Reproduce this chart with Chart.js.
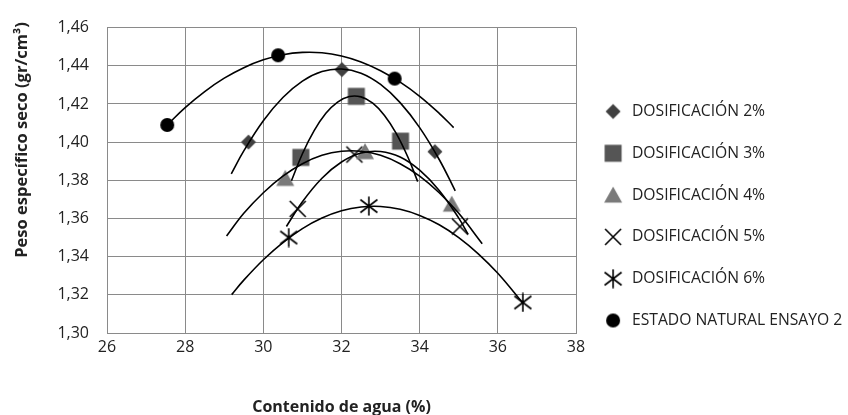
<!DOCTYPE html>
<html><head><meta charset="utf-8">
<script src="https://cdn.jsdelivr.net/npm/chart.js@4"></script>
<style>html,body{margin:0;padding:0;background:#fff;}</style>
</head><body>
<canvas id="c" width="848" height="415"></canvas>
<script>
// ---- data ----
const seriesLabels = ['DOSIFICACIÓN 2%','DOSIFICACIÓN 3%','DOSIFICACIÓN 4%','DOSIFICACIÓN 5%','DOSIFICACIÓN 6%','ESTADO NATURAL ENSAYO 2'];
const water2 = [29.62, 32.01, 34.39];  const dens2 = [1.400, 1.438, 1.395];
const water3 = [30.96, 32.38, 33.51];  const dens3 = [1.392, 1.424, 1.4005];
const water4 = [30.56, 32.60, 34.82];  const dens4 = [1.381, 1.395, 1.3675];
const water5 = [30.88, 32.33, 35.03];  const dens5 = [1.365, 1.3935, 1.3558];
const water6 = [30.65, 32.70, 36.64];  const dens6 = [1.350, 1.3665, 1.316];
const waterN = [27.54, 30.38, 33.36];  const densN = [1.409, 1.4455, 1.4333];

// trend curves
const trendX2 = [29.18, 29.5, 30, 30.5, 31, 31.5, 32, 32.5, 33, 33.5, 34, 34.5, 34.91];
const trendY2 = [1.3834, 1.3954, 1.4112, 1.4234, 1.432, 1.437, 1.4383, 1.4361, 1.4302, 1.4207, 1.4076, 1.3909, 1.3745];
const trendX3 = [30.72, 31.0, 31.3, 31.6, 31.9, 32.2, 32.5, 32.8, 33.1, 33.4, 33.7, 33.95];
const trendY3 = [1.3798, 1.3939, 1.406, 1.4151, 1.421, 1.4239, 1.4237, 1.4204, 1.414, 1.4046, 1.3921, 1.3793];
const trendX4 = [29.06, 29.5, 30, 30.5, 31, 31.5, 32, 32.5, 33, 33.5, 34, 34.5, 35, 35.6];
const trendY4 = [1.3508, 1.3627, 1.3735, 1.3822, 1.3887, 1.3931, 1.3952, 1.3952, 1.3931, 1.3887, 1.3822, 1.3735, 1.3627, 1.3468];
const trendX5 = [30.59, 31, 31.5, 32, 32.5, 33, 33.5, 34, 34.5, 35, 35.24];
const trendY5 = [1.3558, 1.3688, 1.3811, 1.3896, 1.3943, 1.3951, 1.3922, 1.3853, 1.3747, 1.3602, 1.3517];
const trendX6 = [29.19, 29.5, 30, 30.5, 31, 31.5, 32, 32.5, 33, 33.5, 34, 34.5, 35, 35.5, 36, 36.64];
const trendY6 = [1.3201, 1.3277, 1.3384, 1.3474, 1.3547, 1.3602, 1.364, 1.366, 1.3663, 1.3648, 1.3616, 1.3567, 1.35, 1.3415, 1.3313, 1.3157];
const trendXN = [27.54, 28, 28.5, 29, 29.5, 30, 30.5, 31, 31.5, 32, 32.5, 33, 33.5, 34, 34.5, 34.87];
const trendYN = [1.409, 1.4181, 1.4265, 1.4335, 1.439, 1.4431, 1.4458, 1.447, 1.4468, 1.4451, 1.442, 1.4374, 1.4314, 1.424, 1.4151, 1.4076];

const xTickValues = [26, 28, 30, 32, 34, 36, 38];
const yTickValues = [1.30, 1.32, 1.34, 1.36, 1.38, 1.40, 1.42, 1.44, 1.46];
const xTitle = 'Contenido de agua (%)';
const yTitle = 'Peso específico seco (gr/cm³)';

// ---- marker images ----
function makeMarker(kind){
  const c = document.createElement('canvas');
  const s = 20; c.width = s; c.height = s;
  const g = c.getContext('2d'); const m = s/2;
  if (kind === 'diamond'){ g.fillStyle='#404040'; g.beginPath(); g.moveTo(m,m-7.5); g.lineTo(m+7.5,m); g.lineTo(m,m+7.5); g.lineTo(m-7.5,m); g.closePath(); g.fill(); }
  if (kind === 'square'){ g.fillStyle='#555555'; g.fillRect(m-8.5,m-8.5,17,17); }
  if (kind === 'triangle'){ g.fillStyle='#7a7a7a'; g.beginPath(); g.moveTo(m,m-8.5); g.lineTo(m+9,m+7.5); g.lineTo(m-9,m+7.5); g.closePath(); g.fill(); }
  if (kind === 'x'){ g.strokeStyle='#000'; g.lineWidth=1.6; g.beginPath(); g.moveTo(m-8,m-8); g.lineTo(m+8,m+8); g.moveTo(m+8,m-8); g.lineTo(m-8,m+8); g.stroke(); }
  if (kind === 'asterisk'){ g.strokeStyle='#000'; g.lineWidth=1.6; g.beginPath(); g.moveTo(m,m-9.5); g.lineTo(m,m+9.5); g.moveTo(m-8.5,m-6.5); g.lineTo(m+8.5,m+6.5); g.moveTo(m+8.5,m-6.5); g.lineTo(m-8.5,m+6.5); g.stroke(); }
  if (kind === 'circle'){ g.fillStyle='#000'; g.beginPath(); g.arc(m,m,7,0,Math.PI*2); g.fill(); }
  return c;
}
const markerKinds = ['diamond','square','triangle','x','asterisk','circle'];
const markers = markerKinds.map(makeMarker);

const pts = (xs, ys) => xs.map((x,i)=>({x, y: ys[i]}));
const waters = [water2, water3, water4, water5, water6, waterN];
const dens = [dens2, dens3, dens4, dens5, dens6, densN];
const trendXs = [trendX2, trendX3, trendX4, trendX5, trendX6, trendXN];
const trendYs = [trendY2, trendY3, trendY4, trendY5, trendY6, trendYN];

const datasets = [];
seriesLabels.forEach((lab, i) => {
  datasets.push({ label: lab, data: pts(waters[i], dens[i]), showLine: false,
    pointStyle: markers[i], pointRadius: 8, pointHoverRadius: 8, order: 1 });
});
seriesLabels.forEach((lab, i) => {
  datasets.push({ label: 'trend ' + lab, data: pts(trendXs[i], trendYs[i]), showLine: true,
    borderColor: '#000', borderWidth: 1.6, pointRadius: 0, fill: false,
    tension: 0.4, order: 0 });
});

const LEGEND_W = 272;
const legendWidthPlugin = {
  id: 'legendWidth',
  beforeUpdate(chart){
    const lg = chart.legend;
    if (lg && !lg._wPatched){
      const f = lg.fit;
      lg.fit = function(){ f.call(this); if (this.isHorizontal && !this.isHorizontal()) this.width = LEGEND_W; };
      lg._wPatched = true;
    }
  }
};
const yTitlePlugin = {
  id: 'yTitle',
  afterDraw(chart){
    const ctx = chart.ctx; ctx.save();
    ctx.translate(22, 140); ctx.rotate(-Math.PI/2);
    ctx.font = 'bold 16.5px "Open Sans"'; ctx.fillStyle = '#222';
    ctx.textAlign = 'center'; ctx.textBaseline = 'middle';
    ctx.fillText(yTitle, 0, 0); ctx.restore();
  }
};

new Chart(document.getElementById('c'), {
  type: 'scatter',
  data: { datasets },
  options: {
    responsive: false, animation: false,
    layout: { padding: { top: 13, left: 0, right: 0, bottom: -4 } },
    plugins: {
      tooltip: { enabled: false },
      legend: {
        position: 'right', align: 'center',
        labels: {
          usePointStyle: true, pointStyleWidth: 22, boxHeight: 15.7, padding: 26.1,
          color: '#222', font: { family: 'Open Sans', size: 15.7 },
          filter: (item) => item.datasetIndex < seriesLabels.length
        }
      }
    },
    scales: {
      x: {
        type: 'linear', min: 26, max: 38,
        afterBuildTicks: s => { s.ticks = xTickValues.map(v => ({ value: v })); },
        afterFit: s => { s.height = 86; },
        grid: { color: '#8a8a8a', lineWidth: 1, drawTicks: false },
        border: { color: '#8a8a8a' },
        ticks: { padding: 5, color: '#222', font: { family: 'Open Sans', size: 16 }, callback: v => String(v) },
        title: { display: true, text: xTitle, color: '#222', font: { family: 'Open Sans', size: 16, weight: 'bold' }, padding: { top: 0, bottom: 2 } }
      },
      y: {
        type: 'linear', min: 1.30, max: 1.46,
        afterBuildTicks: s => { s.ticks = yTickValues.map(v => ({ value: v })); },
        afterFit: s => { s.width = 107; },
        grid: { color: '#8a8a8a', lineWidth: 1, drawTicks: false },
        border: { color: '#8a8a8a' },
        ticks: { padding: 18, color: '#222', font: { family: 'Open Sans', size: 16 }, callback: v => v.toFixed(2).replace('.', ',') }
      }
    }
  },
  plugins: [legendWidthPlugin, yTitlePlugin]
});
</script>
</body></html>
